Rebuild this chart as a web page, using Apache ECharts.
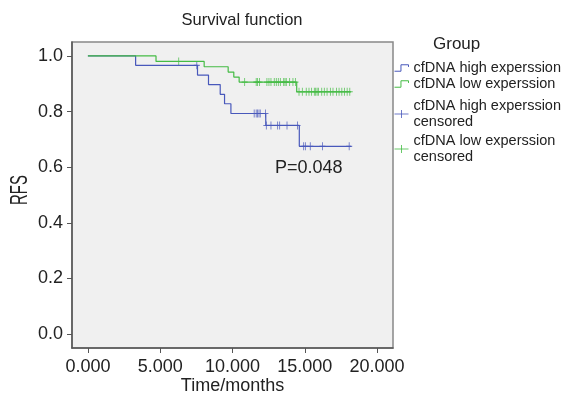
<!DOCTYPE html>
<html><head><meta charset="utf-8">
<script src="https://cdn.jsdelivr.net/npm/echarts@6/dist/echarts.min.js"></script>
<style>html,body{margin:0;padding:0;background:#fff}#c{width:564px;height:400px}</style>
</head><body><div id="c"></div>
<script>
const xTicks = [0, 5, 10, 15, 20];
const yTicks = [0, 0.2, 0.4, 0.6, 0.8, 1.0];
const seriesNames = ['cfDNA high experssion', 'cfDNA low experssion', 'cfDNA high experssion censored', 'cfDNA low experssion censored'];
const highStepT = [0, 3.3, 7.58, 8.34, 9.15, 9.45, 9.89, 12.3, 14.62, 18.2];
const highStepS = [1, 0.966, 0.931, 0.897, 0.862, 0.828, 0.793, 0.750, 0.675, 0.675];
const lowStepT = [0, 4.71, 8.04, 9.70, 10.09, 10.46, 14.44, 18.2];
const lowStepS = [1, 0.980, 0.961, 0.942, 0.924, 0.906, 0.871, 0.871];
const highCensT = [7.53, 11.5, 11.64, 11.73, 11.83, 11.92, 12.28, 12.34, 12.66, 13.12, 13.26, 13.77, 14.5, 14.92, 15.04, 15.38, 16.22, 18.07];
const highCensS = [0.966, 0.793, 0.793, 0.793, 0.793, 0.793, 0.793, 0.750, 0.750, 0.750, 0.750, 0.750, 0.750, 0.675, 0.675, 0.675, 0.675, 0.675];
const lowCensT = [6.28, 10.84, 11.64, 11.73, 11.87, 12.38, 12.52, 12.66, 12.89, 13.03, 13.17, 13.31, 13.54, 13.63, 13.72, 13.95, 14.18, 14.35, 14.6, 14.83, 15.1, 15.29, 15.47, 15.66, 15.75, 15.85, 15.94, 16.17, 16.35, 16.54, 16.77, 16.95, 17.19, 17.37, 17.56, 17.74, 17.93, 18.11];
const lowCensS = [0.980, 0.906, 0.906, 0.906, 0.906, 0.906, 0.906, 0.906, 0.906, 0.906, 0.906, 0.906, 0.906, 0.906, 0.906, 0.906, 0.906, 0.906, 0.871, 0.871, 0.871, 0.871, 0.871, 0.871, 0.871, 0.871, 0.871, 0.871, 0.871, 0.871, 0.871, 0.871, 0.871, 0.871, 0.871, 0.871, 0.871, 0.871];
const pText = 'P=0.048';

const BLUE = '#4858bb', GREEN = '#44bb44';
const FONT = '"Liberation Sans", Arial, sans-serif';
const zip = (a, b) => a.map((v, i) => [v, b[i]]);
const stepIcon = 'path://M0,8 L6,8 L6,2 L13,2 L13,4';
const plusIcon = 'path://M0,5 L14,5 M7,1 L7,9';
const plusSym = 'path://M5,0 L5,10 M0,5 L10,5';

function legendItem(i, top, color, icon, two) {
  return {
    show: true, orient: 'vertical', left: 394, top: top,
    itemWidth: 14, itemHeight: 9, itemGap: 0, padding: 0,
    selectedMode: false,
    data: [{ name: seriesNames[i], icon: icon,
      itemStyle: { color: 'transparent', borderColor: color, borderWidth: 1 } }],
    formatter: n => n.replace(' censored', '\ncensored'),
    textStyle: { fontFamily: FONT, fontSize: 14.5, color: '#222', lineHeight: 16,
      padding: two ? [16, 0, 0, 0] : 0 }
  };
}

const chart = echarts.init(document.getElementById('c'));
chart.setOption({
  animation: false,
  backgroundColor: '#fff',
  grid: { left: 72, top: 42, width: 321, height: 306, show: true, outerBoundsMode: 'none', containLabel: false,
    backgroundColor: '#f0f0f0', borderColor: '#888', borderWidth: 1.5 },
  xAxis: {
    type: 'value', min: -1.1, max: 21.1,
    name: 'Time/months', nameLocation: 'middle', nameGap: 29, nameMoveOverlap: false,
    nameTextStyle: { fontFamily: FONT, fontSize: 18, color: '#222' },
    axisLine: { show: true, onZero: false, lineStyle: { color: '#555', width: 1.5 } },
    axisTick: { show: true, length: 5, customValues: xTicks, lineStyle: { color: '#555' } },
    axisLabel: { customValues: xTicks, formatter: v => v.toFixed(3), fontFamily: FONT, fontSize: 18, color: '#222', margin: 10 },
    splitLine: { show: false }
  },
  yAxis: {
    type: 'value', min: -0.05, max: 1.05,
    name: '',
    axisLine: { show: true, onZero: false, lineStyle: { color: '#555', width: 1.5 } },
    axisTick: { show: true, length: 5, customValues: yTicks, lineStyle: { color: '#555' } },
    axisLabel: { customValues: yTicks, formatter: v => v.toFixed(1), fontFamily: FONT, fontSize: 18, color: '#222', margin: 9 },
    splitLine: { show: false }
  },
  legend: [
    { show: false },
    legendItem(0, 60, BLUE, stepIcon, false),
    legendItem(1, 76, GREEN, stepIcon, false),
    legendItem(2, 90, BLUE, plusIcon, true),
    legendItem(3, 125, GREEN, plusIcon, true)
  ],
  graphic: [
    { type: 'text', x: 242, y: 12, style: { text: 'Survival function', font: '16.5px ' + FONT, fill: '#222', textAlign: 'center' } },
    { type: 'text', x: 433, y: 36, style: { text: 'Group', font: '17px ' + FONT, fill: '#222' } },
    { type: 'text', x: 275, y: 159, style: { text: pText, font: '18px ' + FONT, fill: '#222' } },
    { type: 'text', x: 20, y: 190, rotation: Math.PI / 2, scaleX: 0.62,
      style: { text: 'RFS', font: '24px ' + FONT, fill: '#222', textAlign: 'center', textVerticalAlign: 'middle' } }
  ],
  series: [
    { name: seriesNames[0], type: 'line', step: 'end', showSymbol: false, data: zip(highStepT, highStepS),
      lineStyle: { color: BLUE, width: 1.2 }, itemStyle: { color: BLUE } },
    { name: seriesNames[1], type: 'line', step: 'end', showSymbol: false, data: zip(lowStepT, lowStepS),
      lineStyle: { color: GREEN, width: 1.2 }, itemStyle: { color: GREEN } },
    { name: seriesNames[2], type: 'scatter', symbol: plusSym, symbolSize: [6, 8], data: zip(highCensT, highCensS),
      itemStyle: { color: 'transparent', borderColor: BLUE, borderWidth: 1 } },
    { name: seriesNames[3], type: 'scatter', symbol: plusSym, symbolSize: [6, 8], data: zip(lowCensT, lowCensS),
      itemStyle: { color: 'transparent', borderColor: GREEN, borderWidth: 1 } }
  ]
});
</script></body></html>
